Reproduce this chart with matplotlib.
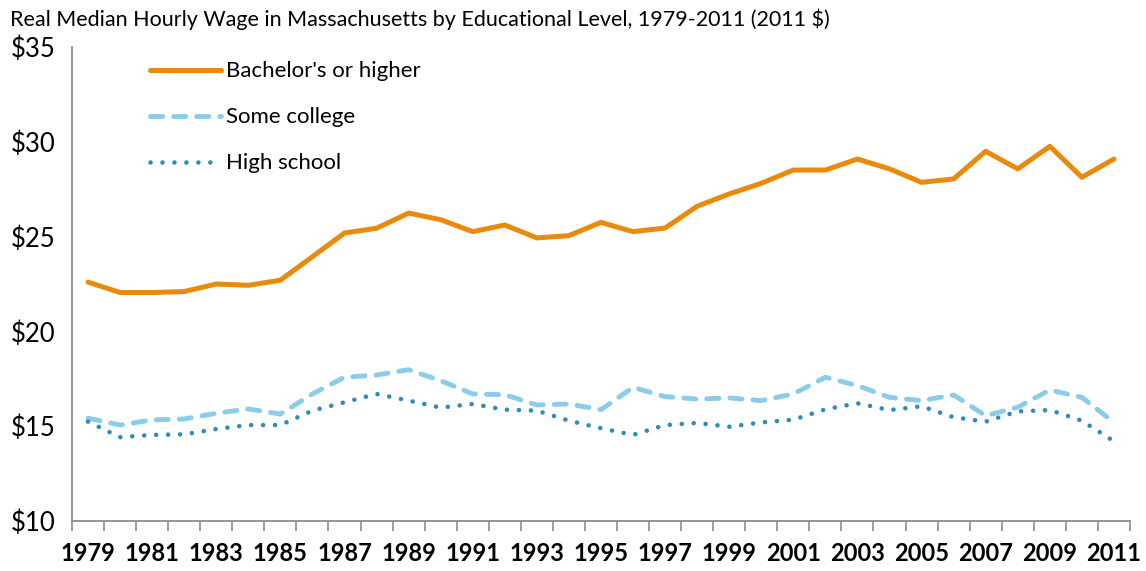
import matplotlib

matplotlib.use("Agg")

import matplotlib.pyplot as plt
from matplotlib.ticker import FixedLocator


OUTPUT_FILE = "out.png"

TITLE = "Real Median Hourly Wage in Massachusetts by Educational Level, 1979-2011 (2011 $)"

YEARS = list(range(1979, 2012))

BACHELORS = [
    22.6, 22.05, 22.05, 22.1, 22.5, 22.43, 22.7, 23.94, 25.19, 25.44, 26.24,
    25.89, 25.26, 25.61, 24.93, 25.05, 25.75, 25.26, 25.45, 26.6, 27.25,
    27.81, 28.51, 28.51, 29.09, 28.57, 27.86, 28.04, 29.5, 28.57, 29.76,
    28.13, 29.09,
]

SOME_COLLEGE = [
    15.42, 15.06, 15.33, 15.38, 15.68, 15.91, 15.64, 16.7, 17.58, 17.7, 17.98,
    17.4, 16.7, 16.66, 16.12, 16.17, 15.87, 17.05, 16.56, 16.43, 16.49,
    16.35, 16.7, 17.58, 17.14, 16.52, 16.35, 16.65, 15.55, 16.0, 16.91,
    16.52, 15.2,
]

HIGH_SCHOOL = [
    15.24, 14.42, 14.54, 14.57, 14.85, 15.06, 15.06, 15.82, 16.26, 16.7, 16.35,
    15.98, 16.17, 15.87, 15.82, 15.29, 14.89, 14.54, 15.06, 15.17, 14.97,
    15.2, 15.34, 15.89, 16.21, 15.85, 16.05, 15.47, 15.24, 15.78, 15.85,
    15.29, 14.2,
]

Y_TICKS = [10, 15, 20, 25, 30, 35]

ORANGE = "#E98A0B"
LIGHT_BLUE = "#89CDEA"
DARK_BLUE = "#318BB8"
AXIS_GRAY = "#8C8C8C"


def main() -> None:
    plt.rcParams["font.family"] = ["Lato", "DejaVu Sans"]

    figure = plt.figure(figsize=(11.46, 5.71), dpi=100)
    axis = figure.add_axes([0.0628, 0.0876, 0.9232, 0.8301])

    positions = list(range(len(YEARS)))

    axis.plot(
        positions,
        BACHELORS,
        color=ORANGE,
        linewidth=3.6,
        solid_capstyle="round",
        solid_joinstyle="round",
        label="Bachelor's or higher",
    )
    axis.plot(
        positions,
        SOME_COLLEGE,
        color=LIGHT_BLUE,
        linewidth=3.5,
        linestyle=(0, (2.5, 2.25)),
        dash_capstyle="round",
        dash_joinstyle="round",
        label="Some college",
    )
    axis.plot(
        positions,
        HIGH_SCHOOL,
        color=DARK_BLUE,
        linewidth=3.3,
        linestyle=(0, (0.01, 2.6)),
        dash_capstyle="round",
        label="High school",
    )

    axis.set_xlim(-0.5, len(YEARS) - 0.5)
    axis.set_ylim(10, 35)

    # category boundaries carry the tick marks, labels sit at every other year
    axis.xaxis.set_major_locator(
        FixedLocator([i - 0.5 for i in range(len(YEARS) + 1)])
    )
    axis.xaxis.set_major_formatter(plt.NullFormatter())
    axis.set_xticks(positions[::2], minor=True)
    axis.set_xticklabels(
        [str(year) for year in YEARS[::2]],
        minor=True,
        fontsize=17,
        fontweight="bold",
    )
    axis.tick_params(
        axis="x",
        which="major",
        direction="out",
        length=7,
        width=1.2,
        color=AXIS_GRAY,
    )
    axis.tick_params(axis="x", which="minor", length=0, pad=15)

    axis.set_yticks(Y_TICKS)
    axis.set_yticklabels([f"${value}" for value in Y_TICKS], fontsize=18.5)
    axis.tick_params(axis="y", length=0, pad=12)

    for side in ("top", "right"):
        axis.spines[side].set_visible(False)
    for side in ("left", "bottom"):
        axis.spines[side].set_color(AXIS_GRAY)
        axis.spines[side].set_linewidth(1.3)

    axis.legend(
        loc="upper left",
        bbox_to_anchor=(0.055, 1.012),
        frameon=False,
        fontsize=16,
        handlelength=3.2,
        handletextpad=0.2,
        labelspacing=1.17,
    )

    figure.text(
        0.009,
        0.967,
        TITLE,
        fontsize=15.5,
        ha="left",
        va="center",
    )

    figure.savefig(OUTPUT_FILE, dpi=100)


if __name__ == "__main__":
    main()
